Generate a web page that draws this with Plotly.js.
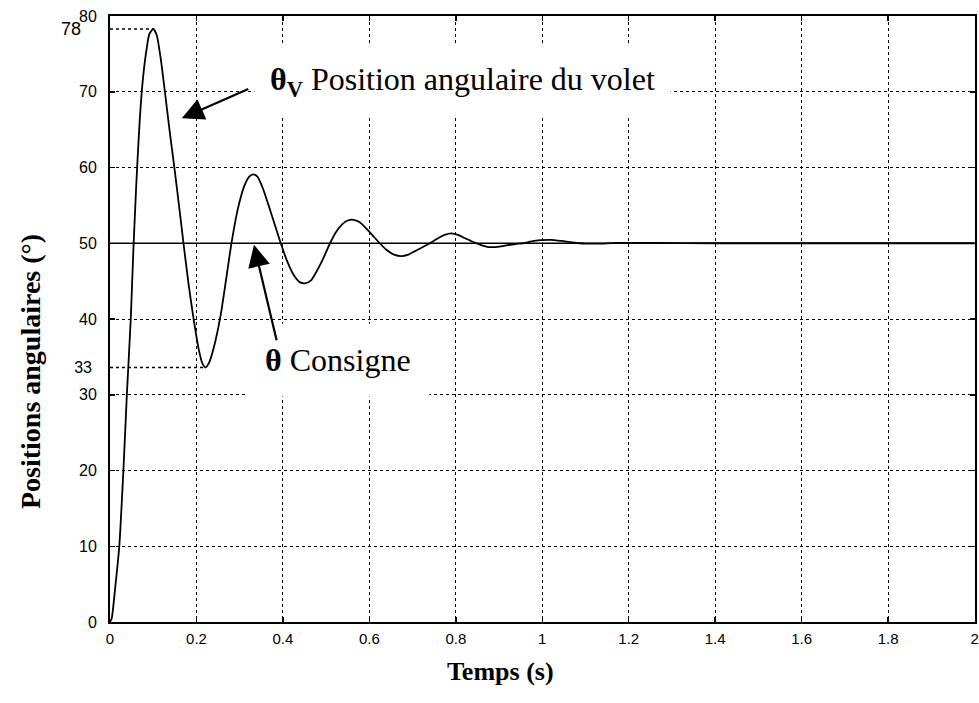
<!DOCTYPE html>
<html>
<head>
<meta charset="utf-8">
<script src="https://cdn.plot.ly/plotly-3.0.1.min.js"></script>
<style>html,body{margin:0;padding:0;background:#fff;}#chart{width:979px;height:703px;}</style>
</head>
<body>
<div id="chart"></div>
<script>
// Time (s) of the response curve
const timeS = [0, 0.004, 0.012, 0.0215, 0.031, 0.039, 0.048, 0.054, 0.061, 0.068, 0.075, 0.083, 0.091, 0.100,
  0.108, 0.117, 0.127, 0.138, 0.150, 0.160, 0.170, 0.182, 0.194, 0.206, 0.214, 0.221, 0.229, 0.240, 0.256,
  0.268, 0.281, 0.296, 0.311, 0.322, 0.331, 0.341, 0.354, 0.368, 0.382, 0.395, 0.410, 0.425, 0.438, 0.451,
  0.465, 0.480, 0.495, 0.509, 0.523, 0.537, 0.550, 0.563, 0.577, 0.592, 0.608, 0.624, 0.640, 0.657, 0.674,
  0.690, 0.707, 0.724, 0.740, 0.757, 0.774, 0.790, 0.805, 0.820, 0.835, 0.848, 0.862, 0.876, 0.890, 0.905,
  0.920, 0.938, 0.955, 0.975, 0.995, 1.02, 1.045, 1.07, 1.10, 1.13, 1.17, 1.25, 1.4, 1.6, 1.8, 2.0];
// Angular position of the flap (deg)
const thetaV = [0, 0.5, 4.5, 10, 20, 30, 40, 49, 58, 65.5, 71, 75, 77.6, 78.3,
  77.5, 74.5, 70, 64.8, 59.5, 54.8, 50, 44.5, 39.8, 35.8, 34.1, 33.6, 34.2, 36.2, 40.5,
  45, 50, 54.6, 57.6, 58.8, 59.1, 58.8, 57.2, 54.8, 52.3, 50, 47.6, 45.8, 44.9, 44.7,
  45.1, 46.5, 48.2, 50, 51.5, 52.5, 53, 53.1, 52.8, 52, 51, 50, 49.1, 48.5, 48.3,
  48.5, 49, 49.5, 50, 50.6, 51.1, 51.3, 51.1, 50.7, 50.3, 50, 49.7, 49.5, 49.5, 49.6,
  49.75, 49.9, 50, 50.25, 50.4, 50.45, 50.3, 50.1, 49.95, 49.95, 50.05, 50.05, 50, 50, 50, 50];
// Set point (consigne)
const consigneT = [0, 2];
const consigneV = [50, 50];
// Marked extremes
const peakT = [0, 0.100];
const peakV = [78.3, 78.3];
const troughT = [0, 0.221];
const troughV = [33.6, 33.6];
// Tick labels
const xTicks = [0, 0.2, 0.4, 0.6, 0.8, 1, 1.2, 1.4, 1.6, 1.8, 2];
const xTickText = ['0', '0.2', '0.4', '0.6', '0.8', '1', '1.2', '1.4', '1.6', '1.8', '2'];
const yTicks = [0, 10, 20, 30, 40, 50, 60, 70, 80];
const yTickText = ['0', '10', '20', '30', '40', '50', '60', '70', '80'];
const extraTick33 = [33.6], extraText33 = ['33'];
const extraTick78 = [78.3], extraText78 = ['78'];

const serif = 'Liberation Serif, Times New Roman, serif';
const sans = 'Liberation Sans, Arial, sans-serif';

const traces = [
  {x: consigneT, y: consigneV, type: 'scatter', mode: 'lines', line: {color: '#000', width: 1.5}, hoverinfo: 'skip'},
  {x: peakT, y: peakV, type: 'scatter', mode: 'lines', line: {color: '#000', width: 1.5, dash: 'dot'}, hoverinfo: 'skip'},
  {x: troughT, y: troughV, type: 'scatter', mode: 'lines', line: {color: '#000', width: 1.5, dash: 'dot'}, hoverinfo: 'skip'},
  {x: timeS, y: thetaV, type: 'scatter', mode: 'lines', line: {color: '#000', width: 1.8, shape: 'spline', smoothing: 0.6}},
  {x: [0], y: [0], yaxis: 'y2', type: 'scatter', mode: 'markers', marker: {opacity: 0}, hoverinfo: 'skip'},
  {x: [0], y: [0], yaxis: 'y3', type: 'scatter', mode: 'markers', marker: {opacity: 0}, hoverinfo: 'skip'}
];

const gridStyle = {showgrid: true, gridcolor: '#000', gridwidth: 1, griddash: '3px,3px'};
const nb = n => '&nbsp;'.repeat(n);

const layout = {
  width: 979, height: 703,
  margin: {l: 110, r: 4, t: 16, b: 81},
  paper_bgcolor: '#fff', plot_bgcolor: '#fff',
  showlegend: false,
  font: {family: sans, color: '#000', size: 15},
  xaxis: Object.assign({
    range: [0, 2.001], tickvals: xTicks, ticktext: xTickText,
    ticks: 'inside', ticklen: 5, tickwidth: 1.5, tickcolor: '#000',
    showline: true, linecolor: '#000', linewidth: 2, mirror: 'ticks', zeroline: false,
    tickfont: {family: sans, size: 15, color: '#000'},
    ticklabelstandoff: 2, ticklabeloverflow: 'allow',
    title: {text: '<b>Temps (s)</b>' + nb(13), font: {family: serif, size: 26, color: '#000'}, standoff: 16}
  }, gridStyle),
  yaxis: Object.assign({
    range: [0, 80], tickvals: yTicks, ticktext: yTickText,
    ticks: 'inside', ticklen: 5, tickwidth: 1.5, tickcolor: '#000',
    showline: true, linecolor: '#000', linewidth: 2, mirror: 'ticks', zeroline: false,
    tickfont: {family: sans, size: 16, color: '#000'},
    ticklabelstandoff: 8,
    title: {text: '<b>Positions angulaires (°)</b>' + nb(15), font: {family: serif, size: 28, color: '#000'}, standoff: 30}
  }, gridStyle),
  yaxis2: {
    overlaying: 'y', side: 'left', range: [0, 80], tickvals: extraTick33, ticktext: extraText33,
    showgrid: false, zeroline: false, showline: false, ticks: '',
    tickfont: {family: sans, size: 16, color: '#000'}, ticklabelstandoff: 17
  },
  yaxis3: {
    overlaying: 'y', side: 'left', range: [0, 80], tickvals: extraTick78, ticktext: extraText78,
    showgrid: false, zeroline: false, showline: false, ticks: '',
    tickfont: {family: sans, size: 18, color: '#000'}, ticklabelstandoff: 28
  },
  annotations: [
    {x: 0.816, y: 71.3, xref: 'x', yref: 'y', showarrow: false,
     text: '<b>θ<sub>V</sub></b> Position angulaire du volet',
     font: {family: serif, size: 32, color: '#000'}, bgcolor: '#fff', borderpad: 15},
    {x: 0.166, y: 66.5, xref: 'x', yref: 'y', text: '', showarrow: true,
     ax: 68, ay: -30, arrowhead: 2, arrowsize: 2, arrowwidth: 2.2, arrowcolor: '#000'},
    {x: 0.528, y: 34.6, xref: 'x', yref: 'y', showarrow: false,
     text: '<b>θ</b> Consigne',
     font: {family: serif, size: 32, color: '#000'}, bgcolor: '#fff', borderpad: 18},
    {x: 0.333, y: 49.8, xref: 'x', yref: 'y', text: '', showarrow: true,
     ax: 23, ay: 97, arrowhead: 2, arrowsize: 2, arrowwidth: 2.2, arrowcolor: '#000'}
  ]
};

Plotly.newPlot('chart', traces, layout, {displayModeBar: false, staticPlot: true});
</script>
</body>
</html>
